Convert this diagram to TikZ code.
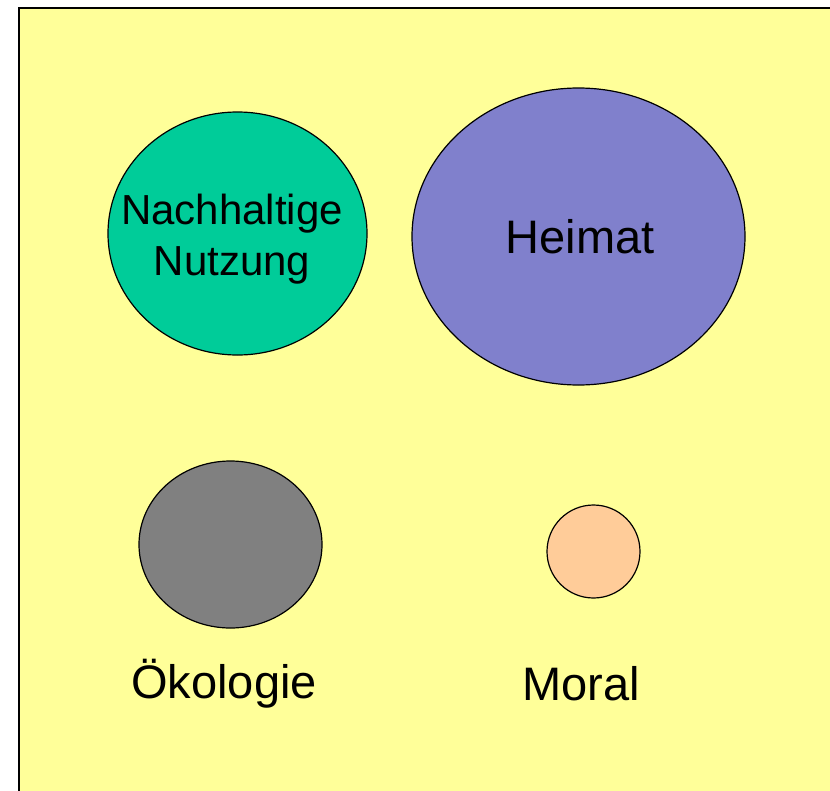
\documentclass[tikz,border=0pt]{standalone}
\usepackage{fontspec}
\setmainfont{Liberation Sans}
\usetikzlibrary{shapes.geometric}
\begin{document}
\begin{tikzpicture}[x=1pt,y=-1pt]
        \tikzstyle{every node} = [ellipse, draw=black, line width=1.2pt, inner sep=0pt]
        \tikzstyle{word} = [draw=none, rectangle, font=\fontsize{47}{54}\selectfont]
        \useasboundingbox (0,0) rectangle (830,790);
        \clip (0,0) rectangle (830,790);
        \draw[fill={rgb,255:red,255;green,255;blue,153}, line width=2pt] (19,8) rectangle (840,800);
        \node (nutzung) at (237.5,233.5) [fill={rgb,255:red,0;green,204;blue,153},
            minimum width=259pt, minimum height=243pt] {};
        \node (heimat) at (578.5,236.5) [fill={rgb,255:red,128;green,128;blue,204},
            minimum width=333pt, minimum height=297pt] {};
        \node (oeko) at (230.5,544.5) [fill={rgb,255:red,128;green,128;blue,128},
            minimum width=183pt, minimum height=167pt] {};
        \node (moral) at (593.5,551.5) [fill={rgb,255:red,255;green,204;blue,153},
            minimum width=93pt, minimum height=93pt] {};
        \node[word, align=center, font=\fontsize{42}{51}\selectfont] (nutzungtext) at (232,239) {Nachhaltige\\Nutzung};
        \node[word] (heimattext) at (580,237) {Heimat};
        \node[word] (oekotext) at (224,684) {Ökologie};
        \node[word] (moraltext) at (581,684) {Moral};
      \end{tikzpicture}
\end{document}
